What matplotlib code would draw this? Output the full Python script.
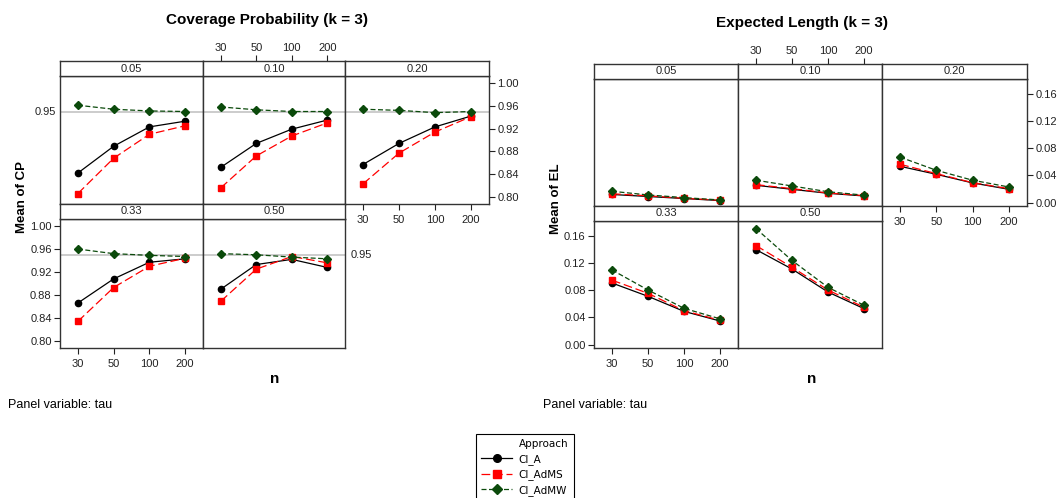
import matplotlib
matplotlib.use("Agg")
import matplotlib.pyplot as plt
from matplotlib.lines import Line2D

W, H = 1062, 498
NARROW = ['Liberation Sans Narrow', 'Liberation Sans', 'DejaVu Sans']
plt.rcParams['font.family'] = NARROW

n_labels = ['30', '50', '100', '200']
tau_labels = ['0.05', '0.10', '0.20', '0.33', '0.50']

cp_A = [[0.842, 0.889, 0.923, 0.933],
        [0.852, 0.894, 0.919, 0.935],
        [0.857, 0.894, 0.923, 0.942],
        [0.866, 0.908, 0.937, 0.943],
        [0.890, 0.933, 0.942, 0.928]]
cp_AdMS = [[0.806, 0.868, 0.910, 0.925],
           [0.816, 0.872, 0.907, 0.930],
           [0.823, 0.877, 0.914, 0.941],
           [0.834, 0.893, 0.930, 0.944],
           [0.869, 0.925, 0.947, 0.936]]
cp_AdMW = [[0.961, 0.954, 0.951, 0.950],
           [0.958, 0.953, 0.950, 0.950],
           [0.954, 0.952, 0.948, 0.950],
           [0.960, 0.952, 0.949, 0.947],
           [0.952, 0.950, 0.946, 0.943]]

el_A = [[0.012, 0.009, 0.006, 0.003],
        [0.0255, 0.0196, 0.0137, 0.0098],
        [0.0535, 0.0417, 0.029, 0.0196],
        [0.0908, 0.0712, 0.049, 0.0348],
        [0.140, 0.1114, 0.0775, 0.053]]
el_AdMS = [[0.013, 0.010, 0.0064, 0.0034],
           [0.0265, 0.0206, 0.0142, 0.0103],
           [0.0565, 0.0427, 0.0294, 0.0206],
           [0.095, 0.0756, 0.050, 0.0358],
           [0.146, 0.114, 0.0805, 0.055]]
el_AdMW = [[0.0167, 0.0113, 0.0074, 0.0039],
           [0.033, 0.0245, 0.016, 0.011],
           [0.067, 0.0476, 0.033, 0.023],
           [0.110, 0.0805, 0.0535, 0.038],
           [0.171, 0.124, 0.0844, 0.058]]

cp_ticks = [0.80, 0.84, 0.88, 0.92, 0.96, 1.00]
el_ticks = [0.00, 0.04, 0.08, 0.12, 0.16]
ref_value = 0.95

series_names = ['CI_A', 'CI_AdMS', 'CI_AdMW']
styles = [dict(color='black', ls='-', marker='o', ms=4.5, lw=0.9),
          dict(color='#ff0000', ls=(0, (7, 3)), marker='s', ms=4.2, lw=0.9),
          dict(color='#0b4a0b', ls=(0, (4, 2)), marker='D', ms=4.2, lw=0.9)]

FRAME = '#333333'
TICK_FS = 8
fig = plt.figure(figsize=(W / 100, H / 100), dpi=100)


def px_axes(x0, x1, top, bottom):
    return fig.add_axes([x0 / W, 1 - bottom / H, (x1 - x0) / W, (bottom - top) / H])


def grid(xe, rows, datasets, ylim, yticks, yfmt, ref=None):
    # rows: [(strip_top, plot_top, plot_bottom), ...]
    positions = [(0, 0), (0, 1), (0, 2), (1, 0), (1, 1)]
    axes = []
    xs = list(range(1, len(n_labels) + 1))
    for k, (r, c) in enumerate(positions):
        st, pt, pb = rows[r]
        ax = px_axes(xe[c], xe[c + 1], pt, pb)
        sa = px_axes(xe[c], xe[c + 1], st, pt)
        for a in (ax, sa):
            a.set_xlim(0.5, 4.5)
            for s in a.spines.values():
                s.set_color(FRAME)
                s.set_linewidth(1.0)
            a.tick_params(length=0, labelbottom=False, labelleft=False,
                          colors='#222222', labelsize=TICK_FS)
            a.set_xticks([])
            a.set_yticks([])
        sa.text(0.5, 0.5, tau_labels[k], transform=sa.transAxes, ha='center',
                va='center', fontsize=TICK_FS, color='#222222')
        ax.set_ylim(*ylim)
        if ref is not None:
            ax.axhline(ref, color='#c8c8c8', lw=1.3, zorder=1)
        for sdata, st_ in zip(datasets, styles):
            ax.plot(xs, sdata[k], zorder=3, **st_)
        axes.append(ax)
        # ticks
        if (r, c) == (0, 1):
            sa.set_xticks(xs)
            sa.set_xticklabels(n_labels)
            sa.tick_params(top=True, labeltop=True, bottom=False, length=4,
                           width=0.8, pad=1.5, labelsize=TICK_FS)
        if (r, c) == (0, 2):
            ax.set_yticks(yticks)
            ax.set_yticklabels([yfmt % v for v in yticks])
            ax.tick_params(right=True, labelright=True, left=False, length=4,
                           width=0.8, pad=2, labelsize=TICK_FS)
            ax.set_xticks(xs)
            ax.set_xticklabels(n_labels)
            ax.tick_params(axis='x', bottom=True, labelbottom=True, length=4,
                           width=0.8, pad=4, labelsize=TICK_FS)
        if (r, c) == (1, 0):
            ax.set_yticks(yticks)
            ax.set_yticklabels([yfmt % v for v in yticks])
            ax.tick_params(axis='y', left=True, labelleft=True, length=4,
                           width=0.8, pad=2, labelsize=TICK_FS)
            ax.set_xticks(xs)
            ax.set_xticklabels(n_labels)
            ax.tick_params(axis='x', bottom=True, labelbottom=True, length=4,
                           width=0.8, pad=4, labelsize=TICK_FS)
    return axes


# ---- Left: coverage probability ----
cp_axes = grid([60, 203, 345, 489], [(61, 76, 204), (204, 219, 348)],
               [cp_A, cp_AdMS, cp_AdMW], (0.7877, 1.0123), cp_ticks, '%.2f',
               ref=ref_value)
cp_axes[0].text(-0.03, ref_value, '%.2f' % ref_value,
                transform=cp_axes[0].get_yaxis_transform(), ha='right',
                va='center', fontsize=TICK_FS, color='#222222')
cp_axes[4].text(1.04, ref_value, '%.2f' % ref_value,
                transform=cp_axes[4].get_yaxis_transform(), ha='left',
                va='center', fontsize=TICK_FS, color='#222222')

# ---- Right: expected length ----
el_axes = grid([594, 738, 882, 1027], [(64, 79, 206), (206, 221, 348)],
               [el_A, el_AdMS, el_AdMW], (-0.005, 0.1822), el_ticks, '%.2f')

# ---- Titles and labels ----
title_kw = dict(fontsize=11, fontweight='bold', ha='center', va='center')
fig.text(267 / W, 1 - 20 / H, 'Coverage Probability (k = 3)', **title_kw)
fig.text(802 / W, 1 - 23 / H, 'Expected Length (k = 3)', **title_kw)
fig.text(22 / W, 1 - 197 / H, 'Mean of CP', rotation=90, fontsize=9.5,
         fontweight='bold', ha='center', va='center')
fig.text(556 / W, 1 - 199 / H, 'Mean of EL', rotation=90, fontsize=9.5,
         fontweight='bold', ha='center', va='center')
fig.text(275 / W, 1 - 379 / H, 'n', fontsize=11, fontweight='bold',
         ha='center', va='center')
fig.text(812 / W, 1 - 379 / H, 'n', fontsize=11, fontweight='bold',
         ha='center', va='center')
fig.text(8 / W, 1 - 405 / H, 'Panel variable: tau', fontsize=9,
         ha='left', va='center')
fig.text(543 / W, 1 - 405 / H, 'Panel variable: tau', fontsize=9,
         ha='left', va='center')

# ---- Legend ----
handles = [Line2D([], [], color='none')]
for st_ in styles:
    kw = dict(st_)
    kw['ms'] = 5.5 if st_['marker'] != 'D' else 5
    handles.append(Line2D([], [], **kw))
leg = fig.legend(handles, ['Approach'] + series_names, loc='upper left',
                 bbox_to_anchor=(476 / W, 1 - 434 / H), frameon=True,
                 fancybox=False, edgecolor='black', framealpha=1,
                 prop={'family': 'DejaVu Sans', 'size': 7.5},
                 handlelength=3.0, handletextpad=0.6, labelspacing=0.45,
                 borderpad=0.5, borderaxespad=0)
leg.get_frame().set_linewidth(0.8)

fig.savefig('out.png', dpi=100)
